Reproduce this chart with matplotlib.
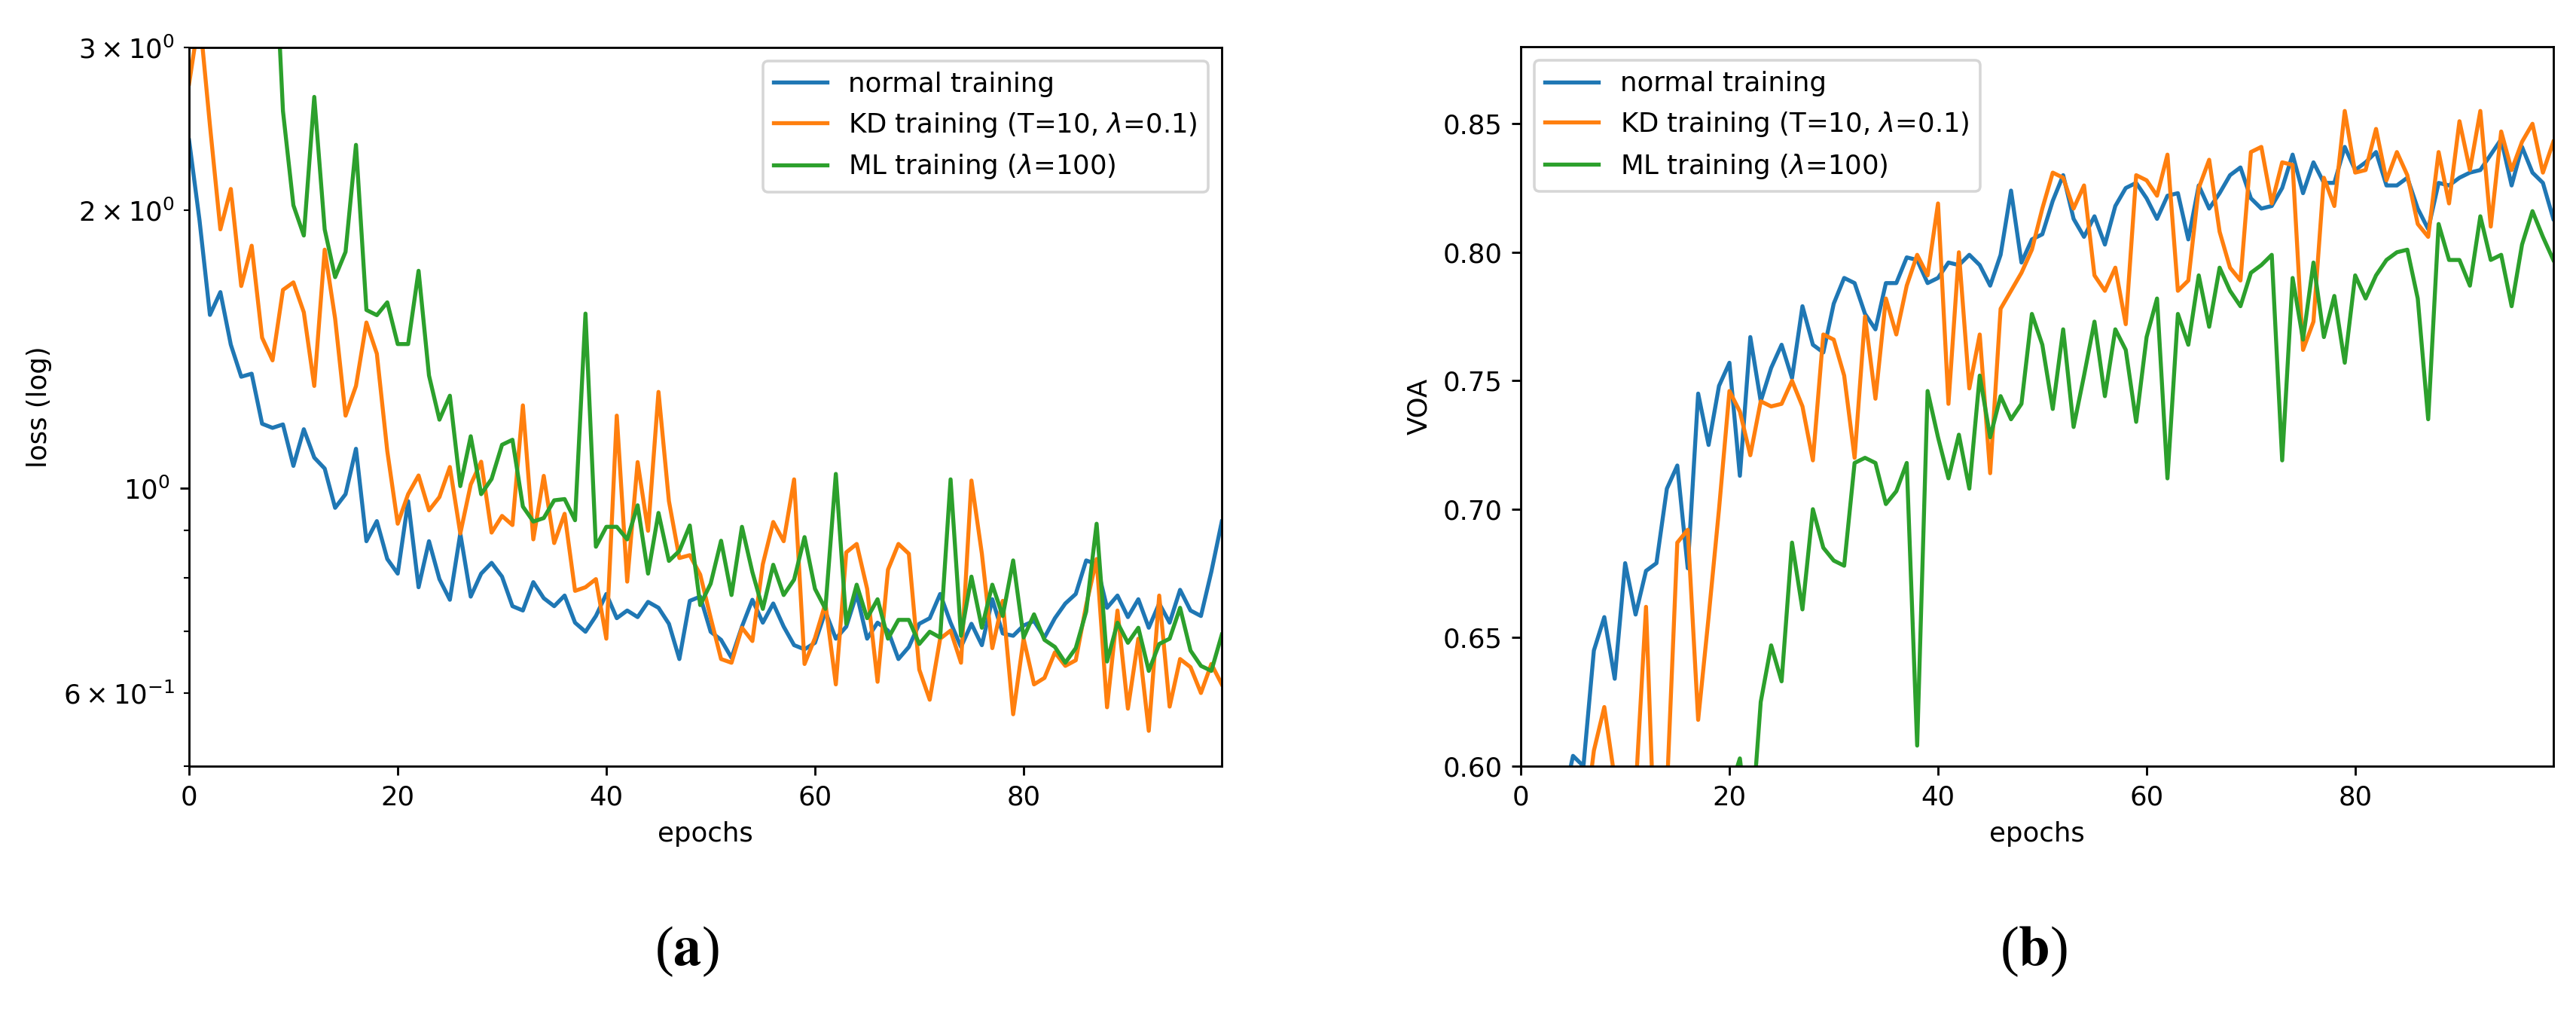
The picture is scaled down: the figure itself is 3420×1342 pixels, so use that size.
import matplotlib
matplotlib.use("Agg")
import matplotlib.pyplot as plt
import numpy as np

# epochs 0..99
epochs = np.arange(100)

labels = ["normal training",
          r"KD training (T=10, $\lambda$=0.1)",
          r"ML training ($\lambda$=100)"]

# (a) loss, log scale
loss_normal = [2.38, 1.95, 1.54, 1.63, 1.43, 1.32, 1.33, 1.174, 1.162, 1.172,
               1.057, 1.158, 1.079, 1.050, 0.952, 0.985, 1.103, 0.876, 0.921, 0.838,
               0.808, 0.968, 0.781, 0.876, 0.797, 0.757, 0.893, 0.763, 0.808, 0.830,
               0.802, 0.745, 0.737, 0.791, 0.760, 0.745, 0.765, 0.715, 0.699, 0.727,
               0.768, 0.723, 0.737, 0.725, 0.753, 0.742, 0.713, 0.653, 0.755, 0.763,
               0.699, 0.685, 0.655, 0.708, 0.757, 0.715, 0.750, 0.708, 0.676, 0.669,
               0.680, 0.735, 0.687, 0.708, 0.768, 0.687, 0.715, 0.701, 0.653, 0.673,
               0.713, 0.723, 0.768, 0.715, 0.673, 0.713, 0.676, 0.758, 0.696, 0.692,
               0.710, 0.718, 0.689, 0.723, 0.750, 0.768, 0.835, 0.827, 0.742, 0.765,
               0.725, 0.758, 0.706, 0.750, 0.715, 0.776, 0.737, 0.727, 0.812, 0.920]

loss_kd = [2.74, 3.25, 2.47, 1.906, 2.108, 1.655, 1.83, 1.455, 1.375, 1.639,
           1.67, 1.55, 1.29, 1.812, 1.526, 1.198, 1.29, 1.511, 1.398, 1.097,
           0.915, 0.985, 1.032, 0.946, 0.978, 1.054, 0.893, 1.009, 1.068, 0.895,
           0.933, 0.912, 1.229, 0.880, 1.031, 0.872, 0.938, 0.774, 0.781, 0.797,
           0.687, 1.198, 0.792, 1.067, 0.899, 1.271, 0.968, 0.840, 0.846, 0.806,
           0.724, 0.653, 0.647, 0.706, 0.683, 0.827, 0.919, 0.876, 1.022, 0.645,
           0.688, 0.750, 0.613, 0.852, 0.870, 0.778, 0.617, 0.816, 0.870, 0.849,
           0.636, 0.590, 0.687, 0.701, 0.647, 1.019, 0.849, 0.671, 0.755, 0.569,
           0.687, 0.613, 0.623, 0.664, 0.642, 0.651, 0.747, 0.838, 0.579, 0.737,
           0.577, 0.687, 0.546, 0.765, 0.580, 0.653, 0.640, 0.600, 0.645, 0.613]

loss_ml = [9.0, 8.0, 7.0, 6.2, 5.6, 5.2, 4.9, 4.6, 4.4, 2.56,
           2.024, 1.877, 2.652, 1.906, 1.692, 1.802, 2.353, 1.559, 1.539, 1.589,
           1.432, 1.432, 1.719, 1.324, 1.186, 1.259, 1.005, 1.138, 0.985, 1.023,
           1.114, 1.128, 0.955, 0.920, 0.928, 0.970, 0.973, 0.923, 1.545, 0.864,
           0.908, 0.908, 0.880, 0.958, 0.808, 0.940, 0.834, 0.855, 0.911, 0.747,
           0.788, 0.877, 0.766, 0.908, 0.811, 0.740, 0.826, 0.766, 0.796, 0.885,
           0.778, 0.740, 1.036, 0.713, 0.786, 0.723, 0.758, 0.687, 0.720, 0.720,
           0.678, 0.699, 0.689, 1.022, 0.692, 0.802, 0.706, 0.786, 0.727, 0.835,
           0.689, 0.730, 0.685, 0.673, 0.647, 0.671, 0.735, 0.915, 0.649, 0.715,
           0.680, 0.706, 0.634, 0.678, 0.687, 0.742, 0.667, 0.642, 0.634, 0.694]

# (b) VOA
voa_normal = [0.47, 0.52, 0.55, 0.57, 0.585, 0.604, 0.600, 0.645, 0.658, 0.634,
              0.679, 0.659, 0.676, 0.679, 0.708, 0.717, 0.677, 0.745, 0.725, 0.748,
              0.757, 0.713, 0.767, 0.742, 0.755, 0.764, 0.751, 0.779, 0.764, 0.761,
              0.780, 0.790, 0.788, 0.776, 0.770, 0.788, 0.788, 0.798, 0.797, 0.788,
              0.790, 0.796, 0.795, 0.799, 0.795, 0.787, 0.799, 0.824, 0.796, 0.805,
              0.807, 0.820, 0.830, 0.813, 0.806, 0.814, 0.803, 0.818, 0.825, 0.827,
              0.821, 0.813, 0.822, 0.823, 0.805, 0.826, 0.817, 0.823, 0.830, 0.833,
              0.821, 0.817, 0.818, 0.825, 0.838, 0.823, 0.835, 0.827, 0.827, 0.841,
              0.832, 0.835, 0.839, 0.826, 0.826, 0.829, 0.817, 0.809, 0.827, 0.826,
              0.829, 0.831, 0.832, 0.838, 0.844, 0.826, 0.841, 0.831, 0.827, 0.813]

voa_kd = [0.40, 0.45, 0.48, 0.52, 0.54, 0.56, 0.573, 0.606, 0.623, 0.595,
          0.57, 0.59, 0.662, 0.55, 0.59, 0.687, 0.692, 0.618, 0.658, 0.700,
          0.746, 0.738, 0.721, 0.742, 0.740, 0.741, 0.750, 0.740, 0.719, 0.768,
          0.766, 0.752, 0.720, 0.775, 0.743, 0.782, 0.768, 0.787, 0.799, 0.791,
          0.819, 0.741, 0.800, 0.747, 0.768, 0.714, 0.778, 0.785, 0.792, 0.801,
          0.817, 0.831, 0.829, 0.817, 0.826, 0.791, 0.785, 0.794, 0.772, 0.830,
          0.828, 0.822, 0.838, 0.785, 0.789, 0.825, 0.836, 0.808, 0.794, 0.789,
          0.839, 0.841, 0.819, 0.835, 0.834, 0.762, 0.773, 0.829, 0.818, 0.855,
          0.831, 0.832, 0.848, 0.828, 0.839, 0.830, 0.811, 0.806, 0.839, 0.819,
          0.851, 0.832, 0.855, 0.810, 0.847, 0.832, 0.843, 0.850, 0.831, 0.843]

voa_ml = [0.30, 0.33, 0.36, 0.38, 0.40, 0.42, 0.44, 0.45, 0.47, 0.48,
          0.50, 0.51, 0.52, 0.53, 0.54, 0.55, 0.56, 0.57, 0.575, 0.58,
          0.59, 0.603, 0.57, 0.625, 0.647, 0.633, 0.687, 0.661, 0.700, 0.685,
          0.680, 0.678, 0.718, 0.720, 0.718, 0.702, 0.707, 0.718, 0.608, 0.746,
          0.728, 0.712, 0.729, 0.708, 0.752, 0.728, 0.744, 0.735, 0.741, 0.776,
          0.764, 0.739, 0.770, 0.732, 0.752, 0.773, 0.744, 0.770, 0.762, 0.734,
          0.767, 0.782, 0.712, 0.776, 0.764, 0.791, 0.771, 0.794, 0.785, 0.779,
          0.792, 0.795, 0.799, 0.719, 0.790, 0.766, 0.796, 0.767, 0.783, 0.757,
          0.791, 0.782, 0.791, 0.797, 0.800, 0.801, 0.782, 0.735, 0.811, 0.797,
          0.797, 0.787, 0.814, 0.797, 0.799, 0.779, 0.803, 0.816, 0.806, 0.797]

fig = plt.figure(figsize=(3420 / 256, 1342 / 256), dpi=256)

# left panel: loss
ax1 = fig.add_axes([0.0734, 0.2422, 0.4009, 0.7109])
ax1.plot(epochs, loss_normal, label=labels[0])
ax1.plot(epochs, loss_kd, label=labels[1])
ax1.plot(epochs, loss_ml, label=labels[2])
ax1.set_yscale("log")
ax1.set_ylim(0.5, 3)
ax1.set_xlim(0, 99)
ax1.set_xlabel("epochs")
ax1.set_ylabel("loss (log)")
ax1.legend(loc="upper right")

# right panel: VOA
ax2 = fig.add_axes([0.5904, 0.2422, 0.4008, 0.7116])
ax2.plot(epochs, voa_normal, label=labels[0])
ax2.plot(epochs, voa_kd, label=labels[1])
ax2.plot(epochs, voa_ml, label=labels[2])
ax2.set_ylim(0.6, 0.88)
ax2.set_xlim(0, 99)
ax2.set_xlabel("epochs")
ax2.set_ylabel("VOA")
ax2.legend(loc="upper left")

# sub-figure captions
fig.text(912 / 3420, 1 - 1263 / 1342, r"($\mathbf{a}$)", ha="center", va="center",
         fontsize=21, family="Liberation Serif", math_fontfamily="stix")
fig.text(2700 / 3420, 1 - 1263 / 1342, r"($\mathbf{b}$)", ha="center", va="center",
         fontsize=21, family="Liberation Serif", math_fontfamily="stix")

fig.savefig("out.png", dpi=256)
